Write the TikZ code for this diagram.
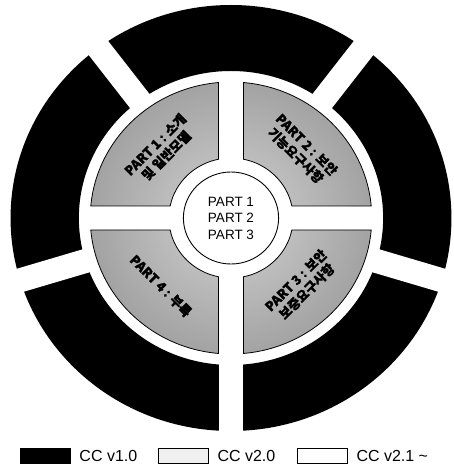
\documentclass[tikz,border=0pt]{standalone}
\usepackage{fontspec}
\setmainfont{Liberation Sans}
\newfontfamily\krfont{Noto Sans CJK KR}[BoldFeatures={FakeBold=1.5}]
\usetikzlibrary{positioning}

% one part of the wheel, in the first quadrant
\newcommand{\partshape}{(12,58.79) -- (12,135.47)
    arc[start angle=84.94, end angle=5.06, radius=136]
    -- (58.79,12)
    arc[start angle=11.54, end angle=78.46, radius=60] -- cycle}

\begin{document}
\begin{tikzpicture}[
  x=1pt, y=1pt,
  ringfill/.style={fill=black, even odd rule},
  gapline/.style={draw=white, line width=24pt},
  quadrant/.style={draw=black, line width=0.8pt},
  partshade/.style={inner color=gray!35, outer color=gray!90},
  hubcircle/.style={draw=black, fill=white, line width=0.9pt},
  hubtext/.style={font=\fontsize{13.5}{16.5}\selectfont, align=center, inner sep=0pt},
  partlabel/.style={font=\krfont\bfseries\fontsize{13}{15.5}\selectfont, align=center,
    inner sep=0pt, text=black},
  legbox/.style={draw=black, line width=0.6pt, minimum width=50pt, minimum height=15pt, inner sep=0pt},
  legtext/.style={font=\fontsize{16}{19}\selectfont, inner sep=1pt}
]
\useasboundingbox (-231,-247) rectangle (223,218);

\begin{scope}[xscale=1.035]
% outer ring, cut in five pieces
\fill[ringfill] (0,0) circle (213) (0,0) circle (147);
\foreach \a in {53,127,197,270,343}
  \draw[gapline] (\a:140) -- (\a:230);

% the four parts round the hub
\foreach \r in {0,90,180,270} {
  \begin{scope}[rotate=\r]
    \begin{scope}
      \clip \partshape;
      \shade[partshade] (0,0) circle (200);
    \end{scope}
    \draw[quadrant] \partshape;
  \end{scope}
}

% hub
\draw[hubcircle] (0,0) circle (46);
\node[hubtext] (hub) at (0,0) {PART 1\\PART 2\\PART 3};

\node[partlabel, rotate=45] (part1) at (135:96) {PART 1 : 소개\\및 일반모델};
\node[partlabel, rotate=-45] (part2) at (45:96) {PART 2 : 보안\\기능요구사항};
\node[partlabel, rotate=45] (part3) at (-45:96) {PART 3 : 보안\\보증요구사항};
\node[partlabel, rotate=-45] (part4) at (-135:96) {PART 4 : 부록};
\end{scope}

% legend
\node[legbox, fill=black] (leg1) at (-186,-237.5) {};
\node[legtext, right=8pt of leg1] (leg1txt) {CC v1.0};
\node[legbox, fill=gray!12] (leg2) at (-48,-237.5) {};
\node[legtext, right=8pt of leg2] (leg2txt) {CC v2.0};
\node[legbox, fill=white] (leg3) at (91,-237.5) {};
\node[legtext, right=8pt of leg3] (leg3txt) {CC v2.1 \textasciitilde};

\end{tikzpicture}
\end{document}
